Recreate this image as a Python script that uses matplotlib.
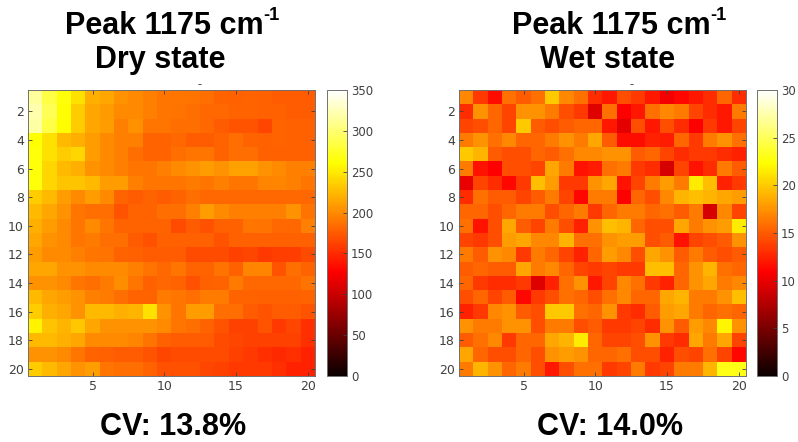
import matplotlib.pyplot as plt
import numpy as np

# Peak 1175 cm-1 intensity maps (20 x 20 pixels).
dry_map = [
    [315, 285, 265, 245, 220, 215, 205, 200, 195, 190, 190, 188, 185, 180, 178, 180, 178, 175, 175, 175],
    [320, 290, 262, 235, 215, 208, 200, 200, 195, 190, 188, 185, 183, 183, 180, 180, 178, 178, 175, 175],
    [318, 285, 260, 235, 215, 210, 195, 203, 190, 190, 185, 185, 183, 175, 172, 172, 165, 180, 178, 178],
    [262, 245, 225, 220, 210, 200, 195, 195, 180, 180, 183, 175, 175, 180, 185, 180, 178, 180, 178, 178],
    [265, 245, 235, 240, 210, 200, 195, 185, 180, 180, 185, 190, 190, 180, 185, 185, 178, 178, 178, 178],
    [265, 240, 225, 220, 205, 200, 195, 190, 190, 195, 200, 205, 210, 205, 212, 212, 205, 200, 195, 195],
    [265, 240, 230, 230, 225, 210, 210, 195, 190, 190, 190, 192, 190, 195, 190, 190, 198, 198, 195, 190],
    [235, 225, 210, 200, 210, 200, 180, 175, 180, 175, 180, 185, 182, 182, 182, 182, 182, 182, 182, 182],
    [225, 215, 205, 190, 185, 185, 172, 180, 180, 185, 185, 195, 210, 200, 195, 195, 195, 195, 205, 188],
    [220, 210, 200, 190, 200, 190, 180, 180, 180, 180, 168, 175, 170, 178, 178, 190, 188, 182, 182, 195],
    [215, 205, 200, 190, 192, 185, 185, 175, 170, 178, 178, 178, 178, 172, 178, 178, 178, 178, 178, 178],
    [210, 200, 200, 195, 190, 188, 180, 178, 175, 175, 175, 168, 168, 168, 162, 165, 158, 160, 160, 168],
    [215, 215, 205, 205, 200, 200, 200, 195, 188, 182, 190, 180, 180, 188, 178, 198, 198, 172, 185, 180],
    [205, 205, 200, 190, 185, 192, 202, 190, 178, 182, 180, 170, 178, 180, 192, 182, 182, 182, 182, 188],
    [225, 215, 210, 205, 195, 192, 185, 180, 180, 192, 190, 185, 192, 192, 180, 180, 178, 178, 178, 180],
    [235, 220, 215, 205, 225, 225, 220, 222, 245, 205, 190, 210, 210, 185, 185, 175, 172, 175, 175, 172],
    [255, 230, 222, 232, 215, 205, 205, 205, 205, 200, 190, 185, 180, 172, 162, 162, 172, 158, 165, 152],
    [225, 225, 220, 215, 200, 200, 200, 198, 188, 178, 175, 175, 175, 168, 165, 162, 162, 162, 162, 152],
    [205, 205, 200, 190, 180, 178, 175, 175, 172, 165, 168, 168, 168, 168, 162, 158, 152, 150, 152, 145],
    [235, 225, 215, 205, 210, 190, 185, 185, 180, 170, 170, 170, 165, 162, 158, 158, 158, 152, 145, 145],
]

wet_map = [
    [17, 13.5, 11.5, 16, 15, 16, 20, 17, 16, 13, 12, 14.5, 13.5, 12, 10.5, 11.3, 12, 13, 15.5, 13],
    [13, 17.5, 15.5, 14, 17.5, 17.5, 16.5, 14.5, 13.5, 9.5, 16, 11, 12, 16, 17, 16.5, 14, 13, 12, 16.5],
    [14, 14.5, 15.5, 14, 20, 15, 14.5, 15, 15.5, 15.5, 12, 9.8, 14.5, 12, 14.5, 13, 11, 13.5, 12, 14],
    [16.5, 17.5, 16, 17, 15.5, 15.5, 16.5, 17.5, 16.5, 18.5, 15, 11.5, 11.5, 12.5, 12.3, 15.5, 13.5, 16.5, 17.5, 16],
    [20, 19, 15, 14.5, 14.5, 15.5, 15, 16, 17, 17, 17.5, 17.5, 15, 15.5, 14, 13, 13.5, 13.5, 13, 12.5],
    [16.5, 11.8, 11, 14.5, 14.5, 14, 18.5, 16.5, 11.8, 12.3, 16, 16.5, 13.5, 13, 9.2, 14, 11.8, 13, 16.5, 15],
    [10, 14, 13, 11.3, 13.5, 19.5, 18, 13.5, 13.5, 17.5, 18.5, 11.8, 14, 16.5, 18, 16.5, 21.5, 19.5, 12.5, 13.5],
    [13, 16, 15, 15, 14, 15, 16.5, 14, 11.3, 16.5, 16.5, 11, 15.5, 14.5, 17, 19, 19.5, 19, 18.5, 18],
    [15.5, 15.5, 14.5, 15.5, 16.5, 16.5, 14.5, 15.5, 16.5, 13.5, 15.5, 16.5, 16.5, 15.5, 16, 15, 16.5, 9.2, 17, 14],
    [16, 11.8, 14.5, 18.5, 15, 14, 16.5, 14.5, 12.5, 17.5, 19.5, 19, 15.5, 14.5, 14.5, 18.5, 16.5, 17.5, 18, 21.5],
    [14, 13.5, 14.5, 18, 18.5, 17, 17, 19, 16, 16, 17.5, 18, 18, 14.5, 15, 11.8, 14, 14.5, 15, 17.5],
    [16.5, 15, 17.5, 17, 13.5, 16.5, 15.5, 14, 12.5, 15.5, 18, 17, 14.5, 18.5, 17.5, 15, 16.5, 15, 14.5, 15],
    [15, 15.5, 15, 15, 18.5, 16.5, 17, 15.5, 14, 13.5, 14, 13.5, 13.5, 19.5, 19.5, 15.5, 17.5, 19, 16, 15.5],
    [15.5, 13.5, 13, 13, 13.5, 9.5, 12.5, 16, 17.5, 12, 14, 17, 16, 13.5, 12.5, 15.5, 17.5, 18.5, 16.5, 17],
    [14.5, 15.5, 14, 15, 11.3, 13.5, 14.5, 16, 15.5, 14.5, 16, 17, 15.5, 15.5, 18.5, 19, 16.5, 16.5, 17.5, 19.5],
    [12.5, 13.5, 17, 17.5, 15, 14.5, 20, 20, 16, 15.5, 17.5, 13.5, 13, 15, 18, 18.5, 16.5, 15.5, 16, 15.5],
    [17.5, 16.5, 16.5, 17.5, 17.5, 14.5, 16.5, 16.5, 14.5, 15, 13.5, 13.5, 14, 13, 17.5, 15, 18, 17, 22, 17.5],
    [15, 16, 17, 13.5, 15.5, 15.5, 18.5, 19, 21.5, 15.5, 14, 14, 14.5, 17.5, 13.5, 13, 18.5, 16.5, 18.5, 14],
    [18.5, 15.5, 14.5, 14.5, 15.5, 14.5, 17.5, 18, 17.5, 15.5, 15.5, 16, 14.5, 14.5, 12.5, 14.5, 14, 16, 14, 11.3],
    [16.5, 19, 17.5, 15.5, 16.5, 14.5, 12, 14.5, 16, 16, 13.5, 14, 16.5, 13.5, 14, 16.5, 16.5, 19, 23, 23],
]

dry_ticks = [0, 50, 100, 150, 200, 250, 300, 350]
wet_ticks = [0, 5, 10, 15, 20, 25, 30]
x_ticks = [5, 10, 15, 20]
y_ticks = [2, 4, 6, 8, 10, 12, 14, 16, 18, 20]

W, H = 798, 442
title_font = "Liberation Sans"
tick_color = "#404040"

fig = plt.figure(figsize=(W / 100, H / 100), dpi=100)
renderer = fig.canvas.get_renderer()


# Zeichnet eine Karte samt Farbskala.
def draw_map(values, vmax, cticks, left, cb_left):
    ax = fig.add_axes([left / W, 66 / H, 287 / W, 286 / H])
    img = ax.imshow(np.array(values), cmap="hot", vmin=0, vmax=vmax,
                    extent=(0.5, 20.5, 20.5, 0.5), aspect="auto",
                    interpolation="nearest")
    ax.set_xticks(x_ticks)
    ax.set_yticks(y_ticks)
    ax.tick_params(direction="in", length=3, labelsize=9, colors=tick_color,
                   top=True, right=True, width=0.6, pad=3)
    for s in ax.spines.values():
        s.set_color("#707070")
        s.set_linewidth(0.7)

    cax = fig.add_axes([cb_left / W, 66 / H, 20 / W, 286 / H])
    cb = fig.colorbar(img, cax=cax, ticks=cticks)
    cax.tick_params(direction="in", length=3, labelsize=8.5, colors=tick_color,
                    width=0.6, pad=3)
    cb.outline.set_edgecolor("#707070")
    cb.outline.set_linewidth(0.7)

    # kleiner Strich vom verdeckten Achsentitel
    fig.text((left + 172) / W, 1 - 88 / H, "-", ha="center", va="baseline",
             fontsize=9, color="#303030", family=title_font)


# Schreibt "Peak 1175 cm-1" zentriert mit hochgestellter -1.
def peak_title(xc, y_base, size):
    main = fig.text(0, 1 - y_base / H, "Peak 1175 cm", ha="left",
                    va="baseline", fontsize=size, fontweight="bold",
                    family=title_font)
    sup = fig.text(0, 1 - (y_base - size * 0.62) / H, "-1", ha="left",
                   va="baseline", fontsize=size * 0.6, fontweight="bold",
                   family=title_font)
    w_main = main.get_window_extent(renderer).width
    w_sup = sup.get_window_extent(renderer).width
    x0 = xc - (w_main + w_sup) / 2
    main.set_x(x0 / W)
    sup.set_x((x0 + w_main) / W)


draw_map(dry_map, 350, dry_ticks, 28, 327)
draw_map(wet_map, 30, wet_ticks, 459, 757)

# Titel und CV-Werte
peak_title(172, 34, 22)
peak_title(619, 34, 22)
fig.text(160 / W, 1 - 68 / H, "Dry state", ha="center", va="baseline",
         fontsize=22, fontweight="bold", family=title_font)
fig.text(608 / W, 1 - 68 / H, "Wet state", ha="center", va="baseline",
         fontsize=22, fontweight="bold", family=title_font)

fig.text(173 / W, 1 - 435 / H, "CV: 13.8%", ha="center", va="baseline",
         fontsize=22, fontweight="bold", family=title_font)
fig.text(610 / W, 1 - 435 / H, "CV: 14.0%", ha="center", va="baseline",
         fontsize=22, fontweight="bold", family=title_font)

fig.savefig("out.png", dpi=100)
